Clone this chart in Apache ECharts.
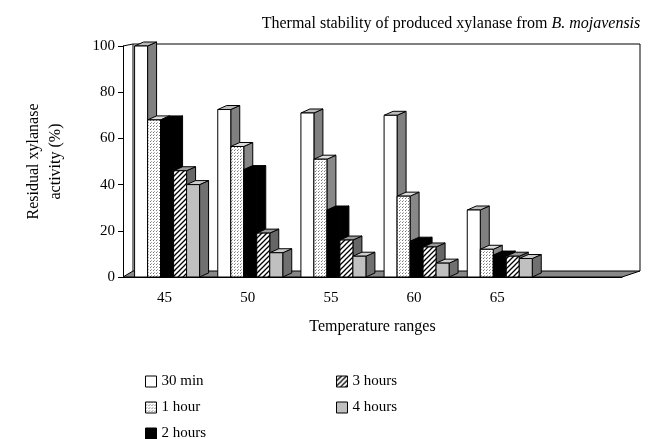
<!DOCTYPE html>
<html>
<head>
<meta charset="utf-8">
<script src="https://cdn.jsdelivr.net/npm/echarts@6/dist/echarts.min.js"></script>
<style>html,body{margin:0;padding:0;background:#fff}#main{width:650px;height:439px}</style>
</head>
<body>
<div id="main"></div>
<script>
// data
var categories = ['45', '50', '55', '60', '65', ''];
var seriesNames = ['30 min', '1 hour', '2 hours', '3 hours', '4 hours'];
var min30 = [100, 72.5, 71, 70, 29];
var hour1 = [68, 56.5, 51, 35, 12];
var hour2 = [68, 46.5, 29, 15.5, 9.5];
var hour3 = [46, 19, 16, 13, 9];
var hour4 = [40, 10.5, 9, 6, 8];
var yTicks = [0, 20, 40, 60, 80, 100];
var allValues = [min30, hour1, hour2, hour3, hour4];

function makePattern(kind) {
    var c = document.createElement('canvas');
    var ctx = c.getContext('2d');
    if (kind === 'dots') {
        c.width = 3; c.height = 3;
        ctx.fillStyle = '#fff'; ctx.fillRect(0, 0, 3, 3);
        ctx.fillStyle = '#777'; ctx.fillRect(0, 0, 1, 1);
        ctx.fillStyle = '#aaa'; ctx.fillRect(1, 2, 1, 1);
    } else {
        c.width = 5; c.height = 5;
        ctx.fillStyle = '#fff'; ctx.fillRect(0, 0, 5, 5);
        ctx.strokeStyle = '#000'; ctx.lineWidth = 1.3;
        ctx.beginPath();
        ctx.moveTo(-1, 6); ctx.lineTo(6, -1);
        ctx.moveTo(-1, 1); ctx.lineTo(1, -1);
        ctx.moveTo(4, 6); ctx.lineTo(6, 4);
        ctx.stroke();
    }
    return {image: c, repeat: 'repeat'};
}

var fronts = ['#fff', makePattern('dots'), '#000', makePattern('hatch'), '#c0c0c0'];
var sides = ['#808080', '#888', '#000', '#666', '#707070'];
var tops = ['#bbb', '#ddd', '#000', '#999', '#ccc'];

var barW = 13, dx = 9, dy = -4;

function barRender(idx) {
    return function (params, api) {
        var cat = api.value(0), val = api.value(1);
        var top = api.coord([cat, val]);
        var base = api.coord([cat, 0]);
        var x0 = top[0] - 30 + idx * barW, x1 = x0 + barW;
        var y0 = top[1], y1 = base[1];
        var st = {stroke: '#000', lineWidth: 1};
        return {
            type: 'group',
            children: [
                {type: 'polygon', shape: {points: [[x1, y1], [x1, y0], [x1 + dx, y0 + dy], [x1 + dx, y1 + dy]]},
                    style: Object.assign({fill: sides[idx]}, st)},
                {type: 'polygon', shape: {points: [[x0, y0], [x0 + dx, y0 + dy], [x1 + dx, y0 + dy], [x1, y0]]},
                    style: Object.assign({fill: tops[idx]}, st)},
                {type: 'rect', shape: {x: x0, y: y0, width: barW, height: y1 - y0},
                    style: Object.assign({fill: fronts[idx]}, st)}
            ]
        };
    };
}

function frameRender(params, api) {
    var band = api.size([1, 0])[0];
    var c0 = api.coord([0, 0]);
    var c5 = api.coord([5, 100]);
    var left = c0[0] - band / 2, right = c5[0] + band / 2;
    var bot = c0[1], topY = c5[1];
    var st = {stroke: '#000', lineWidth: 1};
    return {
        type: 'group',
        children: [
            {type: 'polyline', shape: {points: [[left, topY], [left + 10, topY - 2], [right + 18, topY - 2], [right + 18, bot - 6]]},
                style: {fill: null, stroke: '#000', lineWidth: 1}},
            {type: 'polygon', shape: {points: [[left, bot], [left + 10, bot - 6], [right + 18, bot - 6], [right, bot]]},
                style: Object.assign({fill: '#888'}, st)},
            {type: 'line', shape: {x1: left + 10, y1: topY - 2, x2: left + 10, y2: bot - 6}, style: st}
        ]
    };
}

var series = [{
    type: 'custom', name: 'frame', renderItem: frameRender, data: [[0, 0]], silent: true, z: 1
}];
seriesNames.forEach(function (n, i) {
    series.push({
        type: 'custom',
        name: n,
        renderItem: barRender(i),
        itemStyle: {color: fronts[i], borderColor: '#000', borderWidth: 1},
        data: allValues[i].map(function (v, k) { return [k, v]; }),
        z: 2
    });
});

var chart = echarts.init(document.getElementById('main'));
var font = '"Liberation Serif", "DejaVu Serif", serif';
var legendBase = {
    orient: 'vertical', height: 90, icon: 'rect',
    itemWidth: 11, itemHeight: 11, itemGap: 11, itemStyle: {borderColor: '#000', borderWidth: 1},
    textStyle: {fontFamily: font, fontSize: 15, color: '#000'}
};
chart.setOption({
    animation: false,
    textStyle: {fontFamily: font, color: '#000'},
    title: {
        text: '{n|Thermal stability of produced xylanase from }{i|B. mojavensis}',
        left: 446, top: 11, textAlign: 'center',
        textStyle: {rich: {n: {fontFamily: font, fontSize: 16, fontWeight: 'normal', color: '#000'}, i: {fontFamily: font, fontSize: 16, fontWeight: 'normal', fontStyle: 'italic', color: '#000'}}}
    },
    legend: [
        Object.assign({data: seriesNames.slice(0, 3), left: 140, top: 369}, legendBase),
        Object.assign({data: seriesNames.slice(3), left: 331, top: 369}, legendBase)
    ],
    grid: {left: 123, right: 28, top: 46, bottom: 162},
    xAxis: {
        type: 'category', data: categories,
        name: 'Temperature ranges', nameLocation: 'middle', nameGap: 42,
        nameTextStyle: {fontFamily: font, fontSize: 16, color: '#000'},
        axisLine: {lineStyle: {color: '#000'}},
        axisTick: {lineStyle: {color: '#000'}, length: 8, inside: false},
        axisLabel: {fontFamily: font, fontSize: 15, color: '#000', margin: 14}
    },
    yAxis: {
        type: 'value', min: 0, max: 100, interval: 20,
        name: 'Residual xylanase\nactivity (%)', nameLocation: 'middle', nameGap: 56,
        nameTextStyle: {fontFamily: font, fontSize: 16, color: '#000', lineHeight: 22},
        axisLine: {show: true, lineStyle: {color: '#000'}},
        axisTick: {show: true, lineStyle: {color: '#000'}},
        splitLine: {show: false},
        axisLabel: {fontFamily: font, fontSize: 15, color: '#000',
            formatter: function (v) { return yTicks.indexOf(v) >= 0 ? v : ''; }}
    },
    series: series
});
</script>
</body>
</html>
